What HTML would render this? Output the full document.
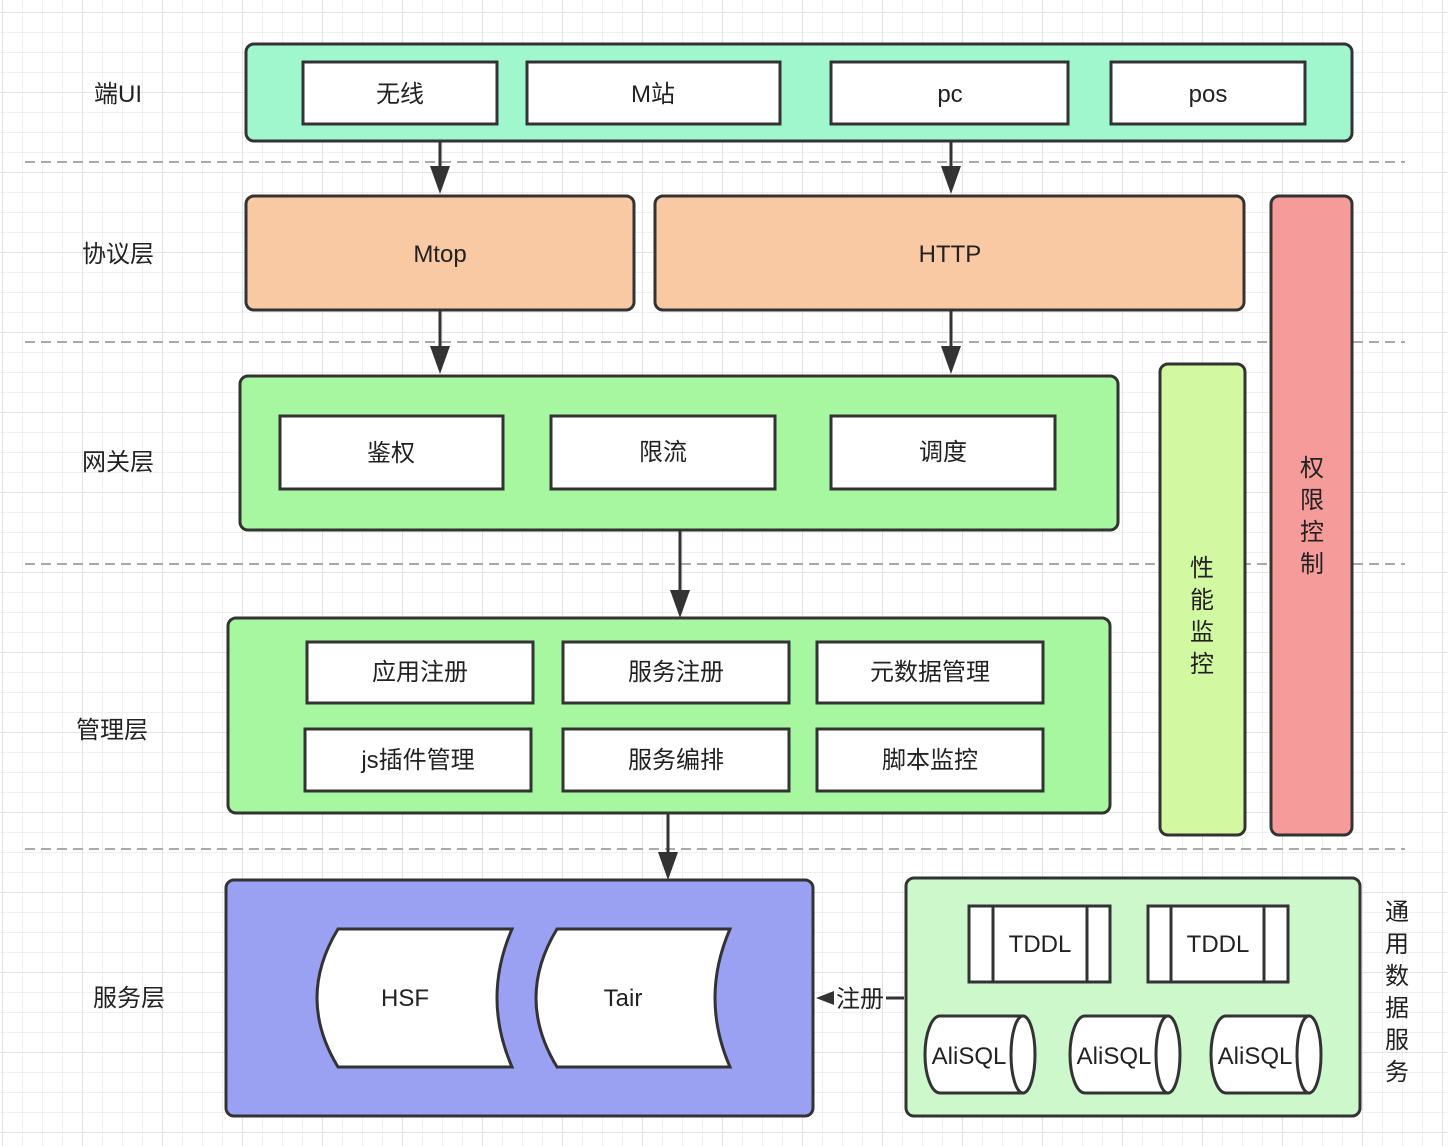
<!DOCTYPE html>
<html><head><meta charset="utf-8"><style>
html,body{margin:0;padding:0;background:#fff}
svg{display:block}
text{font-family:"Liberation Sans","Noto Sans CJK SC",sans-serif;fill:#222}
</style></head><body>
<svg width="1448" height="1146" viewBox="0 0 1448 1146" xmlns="http://www.w3.org/2000/svg">
<defs>
<pattern id="g" x="2" y="12" width="20" height="20" patternUnits="userSpaceOnUse">
<path d="M0 0H20M0 0V20" stroke="#ececec" stroke-width="1.5" fill="none"/>
</pattern>
<pattern id="G" x="2" y="12" width="80" height="80" patternUnits="userSpaceOnUse">
<path d="M0 0H80M0 0V80" stroke="#e2e2e2" stroke-width="2" fill="none"/>
</pattern>
</defs>
<rect width="1448" height="1146" fill="url(#g)"/>
<rect width="1448" height="1146" fill="url(#G)"/>
<g stroke="#aaa" stroke-width="2" stroke-dasharray="10 6">
<path d="M25 162H1405M25 342H1405M25 564H1405M25 849H1405"/>
</g>
<g font-size="24" text-anchor="middle">
<text x="118" y="102">端UI</text>
<text x="118" y="262">协议层</text>
<text x="118" y="470">网关层</text>
<text x="112" y="738">管理层</text>
<text x="129" y="1006">服务层</text>
</g>
<g stroke="#333" stroke-width="3">
<rect x="246" y="44" width="1106" height="97" rx="8" fill="#a0f7cd"/>
<rect x="303" y="62" width="194" height="62" fill="#fff"/>
<rect x="527" y="62" width="253" height="62" fill="#fff"/>
<rect x="831" y="62" width="237" height="62" fill="#fff"/>
<rect x="1111" y="62" width="194" height="62" fill="#fff"/>
<rect x="246" y="196" width="388" height="114" rx="8" fill="#f8c9a2"/>
<rect x="655" y="196" width="589" height="114" rx="8" fill="#f8c9a2"/>
<rect x="1271" y="196" width="81" height="639" rx="8" fill="#f59b9a"/>
<rect x="1160" y="364" width="85" height="471" rx="8" fill="#d2f8a2"/>
<rect x="240" y="376" width="878" height="154" rx="8" fill="#a6f7a0"/>
<rect x="280" y="416" width="223" height="73" fill="#fff"/>
<rect x="551" y="416" width="224" height="73" fill="#fff"/>
<rect x="831" y="416" width="224" height="73" fill="#fff"/>
<rect x="228" y="618" width="882" height="195" rx="8" fill="#a6f7a0"/>
<rect x="307" y="642" width="226" height="61" fill="#fff"/>
<rect x="563" y="642" width="226" height="61" fill="#fff"/>
<rect x="817" y="642" width="226" height="61" fill="#fff"/>
<rect x="305" y="729" width="226" height="62" fill="#fff"/>
<rect x="563" y="729" width="226" height="62" fill="#fff"/>
<rect x="817" y="729" width="226" height="62" fill="#fff"/>
<rect x="226" y="880" width="587" height="236" rx="8" fill="#9aa0f2"/>
<rect x="906" y="878" width="454" height="238" rx="8" fill="#ccf8cc"/>
<path d="M338 929H512Q482 998 512 1067H338Q296 998 338 929Z" fill="#fff"/>
<path d="M557 929H730Q700 998 730 1067H557Q515 998 557 929Z" fill="#fff"/>
<rect x="969" y="906" width="141" height="76" fill="#fff"/>
<path d="M993 906V982M1087 906V982" fill="none"/>
<rect x="1148" y="906" width="140" height="76" fill="#fff"/>
<path d="M1171 906V982M1264 906V982" fill="none"/>
<path d="M940 1016H1023V1093H940A15 38.5 0 0 1 940 1016Z" fill="#fff"/>
<ellipse cx="1023" cy="1054.5" rx="12" ry="38.5" fill="#fff"/>
<path d="M1085 1016H1168V1093H1085A15 38.5 0 0 1 1085 1016Z" fill="#fff"/>
<ellipse cx="1168" cy="1054.5" rx="12" ry="38.5" fill="#fff"/>
<path d="M1226 1016H1309V1093H1226A15 38.5 0 0 1 1226 1016Z" fill="#fff"/>
<ellipse cx="1309" cy="1054.5" rx="12" ry="38.5" fill="#fff"/>
</g>
<g stroke="#333" stroke-width="3" fill="none">
<path d="M440 142V170"/>
<path d="M951 142V170"/>
<path d="M440 311V350"/>
<path d="M951 311V350"/>
<path d="M680 531V594"/>
<path d="M668 814V856"/>
<path d="M904 998H886"/>
</g>
<g fill="#333">
<path d="M430 166H450L440 194Z"/>
<path d="M941 166H961L951 194Z"/>
<path d="M430 346H450L440 374Z"/>
<path d="M941 346H961L951 374Z"/>
<path d="M670 590H690L680 618Z"/>
<path d="M658 852H678L668 880Z"/>
<path d="M816 998L834 991V1005Z"/>
</g>
<g font-size="24" text-anchor="middle">
<text x="400" y="102">无线</text>
<text x="653" y="102">M站</text>
<text x="950" y="102">pc</text>
<text x="1208" y="102">pos</text>
<text x="440" y="262">Mtop</text>
<text x="950" y="262">HTTP</text>
<text x="391" y="461">鉴权</text>
<text x="663" y="460">限流</text>
<text x="943" y="460">调度</text>
<text x="420" y="680">应用注册</text>
<text x="676" y="680">服务注册</text>
<text x="930" y="680">元数据管理</text>
<text x="418" y="768">js插件管理</text>
<text x="676" y="768">服务编排</text>
<text x="930" y="768">脚本监控</text>
<text x="405" y="1006">HSF</text>
<text x="623" y="1006">Tair</text>
<text x="860" y="1007">注册</text>
<text x="1040" y="952">TDDL</text>
<text x="1218" y="952">TDDL</text>
<text x="969" y="1064">AliSQL</text>
<text x="1114" y="1064">AliSQL</text>
<text x="1255" y="1064">AliSQL</text>
<text x="1312" y="476">权</text><text x="1312" y="508">限</text><text x="1312" y="540">控</text><text x="1312" y="572">制</text>
<text x="1202" y="576">性</text><text x="1202" y="608">能</text><text x="1202" y="640">监</text><text x="1202" y="672">控</text>
<text x="1397" y="920">通</text><text x="1397" y="952">用</text><text x="1397" y="984">数</text><text x="1397" y="1016">据</text><text x="1397" y="1048">服</text><text x="1397" y="1080">务</text>
</g>
</svg>
</body></html>
